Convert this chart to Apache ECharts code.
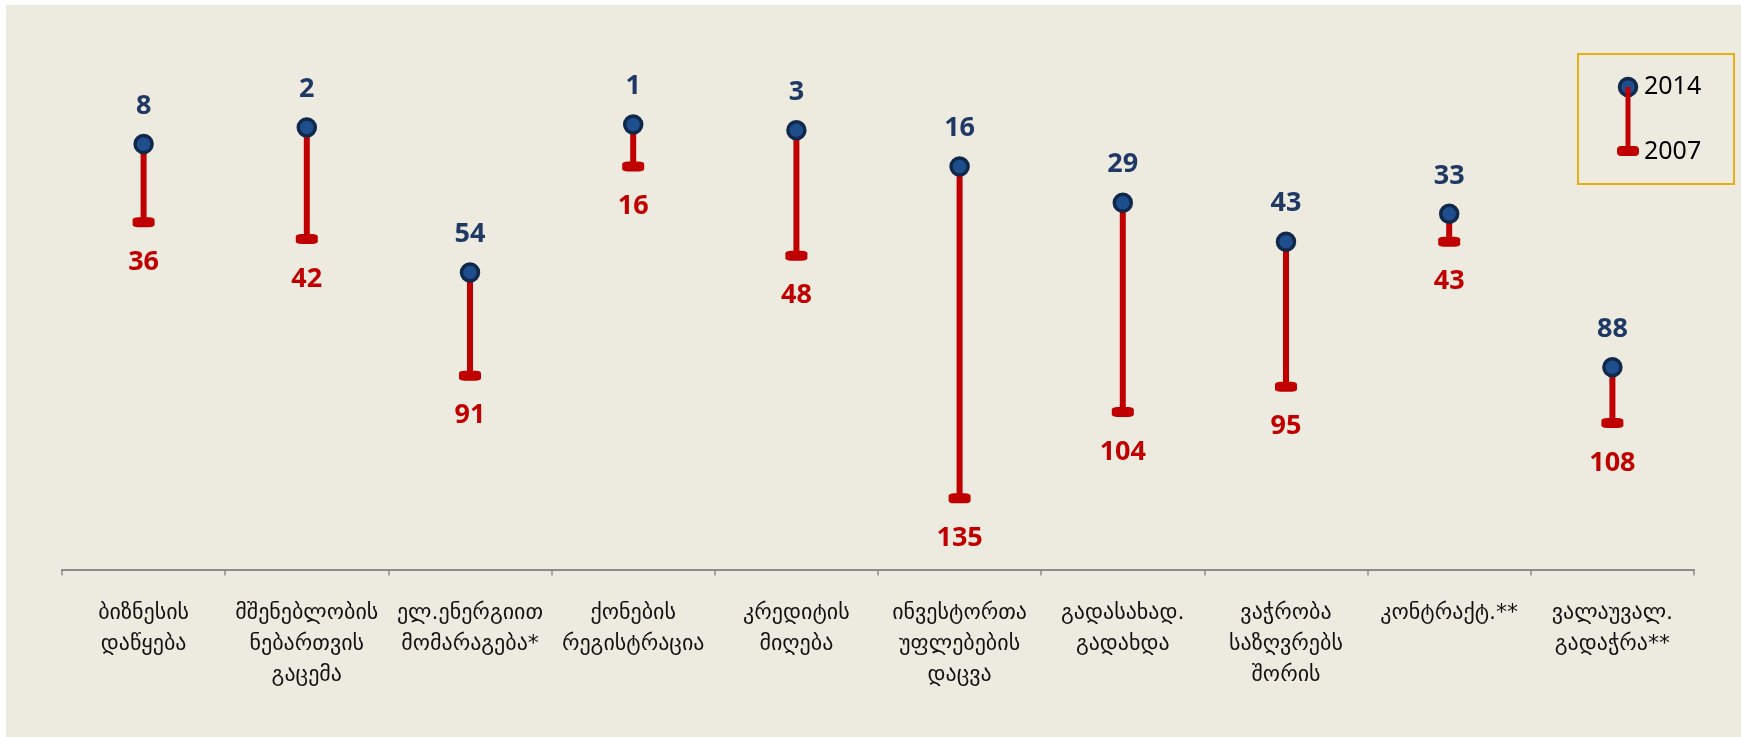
<!DOCTYPE html>
<html>
<head>
<meta charset="utf-8">
<script src="https://cdn.jsdelivr.net/npm/echarts@6/dist/echarts.min.js"></script>
<style>
    html, body { margin: 0; padding: 0; background: #fff; }
    #chart { position: absolute; left: 6px; top: 5px; width: 1735px; height: 732px; }
</style>
</head>
<body>
<div id="chart"></div>
<script>
    // კატეგორიები და რანგები (Doing Business)
    const categories = [
        'ბიზნესის\nდაწყება',
        'მშენებლობის\nნებართვის\nგაცემა',
        'ელ.ენერგიით\nმომარაგება*',
        'ქონების\nრეგისტრაცია',
        'კრედიტის\nმიღება',
        'ინვესტორთა\nუფლებების\nდაცვა',
        'გადასახად.\nგადახდა',
        'ვაჭრობა\nსაზღვრებს\nშორის',
        'კონტრაქტ.**',
        'ვალაუვალ.\nგადაჭრა**'
    ];
    const rank2014 = [8, 2, 54, 1, 3, 16, 29, 43, 33, 88];
    const rank2007 = [36, 42, 91, 16, 48, 135, 104, 95, 43, 108];

    const RED = '#C00000';
    const NAVY = '#1F3864';
    const numFont = '"Noto Sans", sans-serif';

    let chart = echarts.init(document.getElementById('chart'));

    let option = {
        backgroundColor: '#EDEBE0',
        animation: false,
        grid: {
            left: 56,
            right: 47,
            top: 116.8,
            bottom: 167.5
        },
        xAxis: {
            type: 'category',
            data: categories,
            axisLine: {
                onZero: false,
                lineStyle: { color: '#8C8C8C', width: 2 }
            },
            axisTick: {
                show: true,
                length: 6,
                lineStyle: { color: '#8C8C8C', width: 1.5 }
            },
            axisLabel: {
                interval: 0,
                margin: 28,
                fontFamily: '"DejaVu Sans", sans-serif',
                fontSize: 22,
                lineHeight: 31,
                color: '#111'
            }
        },
        yAxis: {
            type: 'value',
            inverse: true,
            min: 0,
            max: 160.5,
            show: false
        },
        series: [
            {
                // 2007 -> 2014 შემაერთებელი ხაზი
                type: 'custom',
                z: 1,
                data: rank2014.map((v, i) => [i, v, rank2007[i]]),
                encode: { x: 0, y: [1, 2] },
                renderItem(params, api) {
                    let p1 = api.coord([api.value(0), api.value(1)]);
                    let p2 = api.coord([api.value(0), api.value(2)]);
                    return {
                        type: 'line',
                        shape: { x1: p1[0], y1: p1[1], x2: p2[0], y2: p2[1] },
                        style: { stroke: RED, lineWidth: 6 }
                    };
                }
            },
            {
                name: '2007',
                type: 'scatter',
                z: 2,
                data: rank2007,
                symbol: 'roundRect',
                symbolSize: [22, 10],
                itemStyle: { color: RED, opacity: 1 },
                label: {
                    show: true,
                    position: 'inside',
                    offset: [0, 40],
                    fontFamily: numFont,
                    fontWeight: 'bold',
                    fontSize: 27,
                    color: RED
                }
            },
            {
                name: '2014',
                type: 'scatter',
                z: 3,
                data: rank2014,
                symbol: 'circle',
                symbolSize: 17,
                itemStyle: {
                    color: '#1F4E8C',
                    borderColor: '#10284A',
                    borderWidth: 3.5,
                    opacity: 1
                },
                label: {
                    show: true,
                    position: 'inside',
                    offset: [0, -38],
                    fontFamily: numFont,
                    fontWeight: 'bold',
                    fontSize: 27,
                    color: NAVY
                }
            }
        ],
        graphic: [
            {
                type: 'rect',
                shape: { x: 1572, y: 49, width: 156, height: 130 },
                style: { fill: 'none', stroke: '#E5B012', lineWidth: 2 }
            },
            {
                type: 'circle',
                z: 10,
                shape: { cx: 1622, cy: 82, r: 8.5 },
                style: { fill: '#1F4E8C', stroke: '#10284A', lineWidth: 3.5 }
            },
            {
                type: 'rect',
                z: 10,
                shape: { x: 1611, y: 141, width: 22, height: 10, r: 4 },
                style: { fill: RED }
            },
            {
                type: 'line',
                z: 11,
                shape: { x1: 1622, y1: 82, x2: 1622, y2: 146 },
                style: { stroke: RED, lineWidth: 5 }
            },
            {
                type: 'text',
                z: 10,
                x: 1638,
                y: 82,
                style: {
                    text: '2014',
                    fontFamily: numFont,
                    fontSize: 25,
                    fill: '#000',
                    verticalAlign: 'middle'
                }
            },
            {
                type: 'text',
                z: 10,
                x: 1638,
                y: 147,
                style: {
                    text: '2007',
                    fontFamily: numFont,
                    fontSize: 25,
                    fill: '#000',
                    verticalAlign: 'middle'
                }
            }
        ]
    };

    chart.setOption(option);
</script>
</body>
</html>
